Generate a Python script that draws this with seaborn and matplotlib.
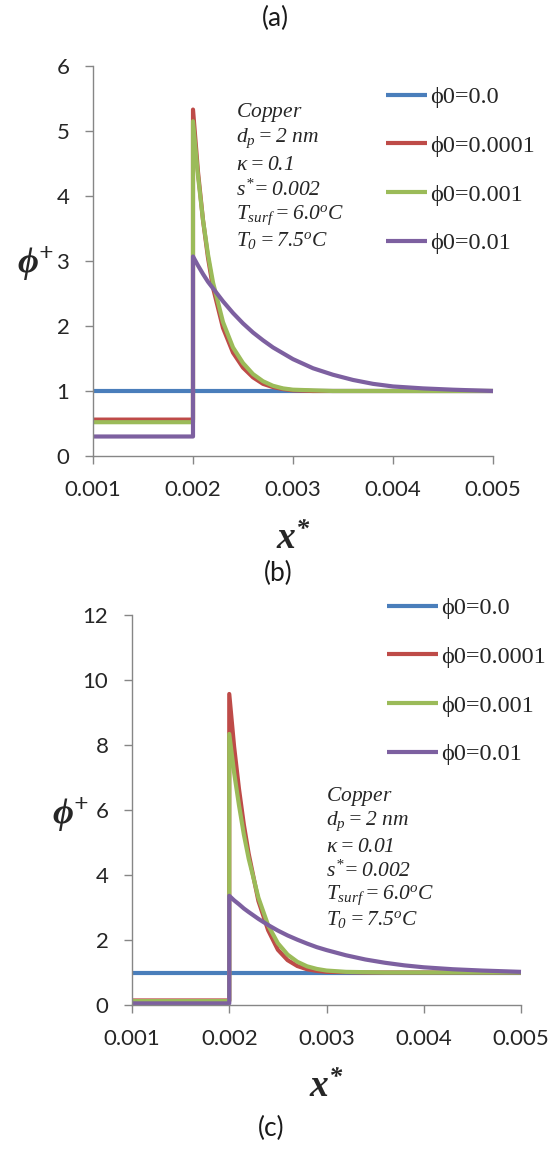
import matplotlib
matplotlib.use("Agg")
import matplotlib.pyplot as plt
import seaborn as sns
import pandas as pd

# ---- data -------------------------------------------------------------
x_star = [0.001, 0.002, 0.002, 0.00205, 0.0021, 0.00215, 0.0022, 0.0023,
          0.0024, 0.0025, 0.0026, 0.0027, 0.0028, 0.0029, 0.003, 0.0032,
          0.0034, 0.0036, 0.0038, 0.004, 0.0043, 0.0046, 0.005]

series_labels = ["ϕ0=0.0", "ϕ0=0.0001", "ϕ0=0.001", "ϕ0=0.01"]

# kappa = 0.1
phi_a_0 = [1.0] * 23
phi_a_1e4 = [0.56, 0.56, 5.33, 4.37, 3.63, 3.05, 2.59, 1.97, 1.59, 1.36, 1.21,
             1.11, 1.06, 1.03, 1.01, 1.0, 1.0, 1.0, 1.0, 1.0, 1.0, 1.0, 1.0]
phi_a_1e3 = [0.52, 0.52, 5.15, 4.31, 3.63, 3.10, 2.67, 2.06, 1.67, 1.43, 1.26,
             1.15, 1.08, 1.04, 1.02, 1.01, 1.0, 1.0, 1.0, 1.0, 1.0, 1.0, 1.0]
phi_a_1e2 = [0.30, 0.30, 3.07, 2.93, 2.80, 2.68, 2.58, 2.38, 2.20, 2.04, 1.90,
             1.78, 1.67, 1.58, 1.49, 1.35, 1.25, 1.17, 1.11, 1.07, 1.04, 1.02, 1.00]

# kappa = 0.01
phi_b_0 = [1.0] * 23
phi_b_1e4 = [0.14, 0.14, 9.57, 7.95, 6.65, 5.55, 4.65, 3.20, 2.30, 1.70, 1.38,
             1.20, 1.10, 1.05, 1.02, 1.01, 1.0, 1.0, 1.0, 1.0, 1.0, 1.0, 1.0]
phi_b_1e3 = [0.12, 0.12, 8.34, 7.15, 6.15, 5.25, 4.50, 3.30, 2.45, 1.90, 1.55,
             1.33, 1.19, 1.11, 1.06, 1.02, 1.01, 1.0, 1.0, 1.0, 1.0, 1.0, 1.0]
phi_b_1e2 = [0.05, 0.05, 3.36, 3.22, 3.10, 2.97, 2.86, 2.65, 2.46, 2.29, 2.14,
             2.01, 1.89, 1.78, 1.69, 1.53, 1.40, 1.30, 1.22, 1.16, 1.10, 1.06, 1.02]

x_ticks = [0.001, 0.002, 0.003, 0.004, 0.005]
x_tick_labels = ["0.001", "0.002", "0.003", "0.004", "0.005"]

params_a = ["$Copper$", r"$d_p = 2\ nm$", r"$\kappa = 0.1$", r"$s^{*}\!=0.002$",
            r"$T_{surf} = 6.0^{o}C$", r"$T_0 = 7.5^{o}C$"]
params_b = ["$Copper$", r"$d_p = 2\ nm$", r"$\kappa = 0.01$", r"$s^{*}\!=0.002$",
            r"$T_{surf} = 6.0^{o}C$", r"$T_0 = 7.5^{o}C$"]

# ---- style ------------------------------------------------------------
sns.set_style("ticks")
plt.rcParams.update({
    "font.family": ["Lato", "DejaVu Sans"],
    "mathtext.fontset": "custom",
    "mathtext.rm": "Liberation Serif:italic",
    "mathtext.it": "Liberation Serif:italic",
    "mathtext.bf": "Liberation Serif:italic:bold",
    "axes.edgecolor": "#868686",
    "xtick.color": "#868686",
    "ytick.color": "#868686",
    "xtick.labelcolor": "#262626",
    "ytick.labelcolor": "#262626",
})
palette = ["#4A7EBB", "#BE4B48", "#9BBB59", "#7D60A0"]

W, H = 551, 1149
fig = plt.figure(figsize=(W / 100, H / 100), dpi=100)


def frame(series):
    rows = []
    for lab, vals in zip(series_labels, series):
        for xv, yv in zip(x_star, vals):
            rows.append({"x": xv, "phi": yv, "case": lab})
    return pd.DataFrame(rows)


def px_axes(left, top, right, bottom):
    return fig.add_axes([left / W, 1 - bottom / H, (right - left) / W, (bottom - top) / H])


def panel(ax, series, ymax, ystep, leg_anchor, handlelen):
    df = frame(series)
    sns.lineplot(data=df, x="x", y="phi", hue="case", hue_order=series_labels,
                 palette=palette, sort=False, estimator=None, linewidth=3.0,
                 ax=ax, legend=True)
    ax.set_xlim(0.001, 0.005)
    ax.set_ylim(0, ymax)
    ax.set_xticks(x_ticks)
    ax.set_xticklabels(x_tick_labels)
    ax.set_yticks(list(range(0, ymax + 1, ystep)))
    ax.tick_params(axis="both", direction="out", length=6, width=1.0,
                   labelsize=16, pad=11)
    sns.despine(ax=ax)
    for s in ax.spines.values():
        s.set_linewidth(1.0)
    for ln in ax.lines:
        ln.set_clip_on(False)
        ln.set_solid_capstyle("butt")
    handles, labels = ax.get_legend_handles_labels()
    ax.legend(handles, labels, loc="upper left", bbox_to_anchor=leg_anchor,
              bbox_transform=fig.transFigure, frameon=False,
              prop={"family": ["Liberation Serif", "DejaVu Serif"], "size": 17.5},
              handlelength=handlelen, handletextpad=0.12, labelspacing=1.1,
              borderaxespad=0, borderpad=0)
    ax.set_xlabel(r"$\mathbf{x^{*}}$", fontsize=27)
    ax.set_ylabel(r"$\mathbf{\phi^{+}}$", fontsize=26, rotation=0)


# panel (a)
ax1 = px_axes(93, 66, 493, 456)
panel(ax1, [phi_a_0, phi_a_1e4, phi_a_1e3, phi_a_1e2], 6, 1,
      (386 / W, 1 - 86 / H), 1.7)
ax1.xaxis.set_label_coords(0.5, -(520 - 456) / 390)
ax1.yaxis.set_label_coords(-(93 - 35) / 400, (456 - 284) / 390)
for i, t in enumerate(params_a):
    fig.text(236 / W, 1 - (113 + 25.5 * i) / H, t, fontsize=15.5, va="center",
             ha="left", color="#262626")

# panel (b)
ax2 = px_axes(132, 615, 521, 1005)
panel(ax2, [phi_b_0, phi_b_1e4, phi_b_1e3, phi_b_1e2], 12, 2,
      (387 / W, 1 - 597 / H), 2.1)
ax2.xaxis.set_label_coords(0.5, -(1068 - 1005) / 390)
ax2.yaxis.set_label_coords(-(132 - 70) / 389, (1005 - 835) / 390)
for i, t in enumerate(params_b):
    fig.text(326 / W, 1 - (797 + 24.5 * i) / H, t, fontsize=15.5, va="center",
             ha="left", color="#262626")

for lab, ypx, xpx in [("(a)", 18, 275), ("(b)", 573, 278), ("(c)", 1128, 271)]:
    fig.text(xpx / W, 1 - ypx / H, lab, fontsize=19, ha="center", va="center",
             color="#1a1a1a")

fig.savefig("out.png", dpi=100)
